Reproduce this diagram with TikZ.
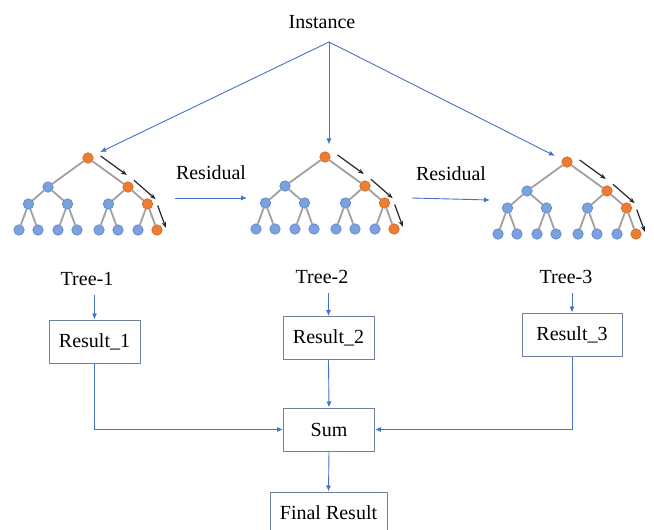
\documentclass[tikz,border=0pt]{standalone}
\usepackage{fontspec}
\setmainfont{Liberation Serif}
\newfontfamily\diagfont{Liberation Serif}
\usetikzlibrary{arrows.meta}

\definecolor{linkblue}{RGB}{68,114,196}
\definecolor{boxgray}{RGB}{112,128,160}
\definecolor{treeblue}{RGB}{122,162,222}
\definecolor{treeblueline}{RGB}{90,130,200}
\definecolor{treeorange}{RGB}{237,125,49}
\definecolor{treeorangeline}{RGB}{205,100,40}
\definecolor{edgegray}{RGB}{160,160,160}

\begin{document}
\begin{tikzpicture}[x=1pt,y=-1pt,>={Latex[length=6pt,width=5pt]},
  link/.style={->,draw=linkblue,line width=0.9pt},
  txt/.style={font=\diagfont\fontsize{20}{24}\selectfont},
  resbox/.style={txt,draw=boxgray,line width=1pt,minimum width=91pt,minimum height=43pt,inner sep=0pt},
  bnode/.style={circle,inner sep=0pt,minimum size=10.5pt,fill=treeblue,draw=treeblueline,line width=0.6pt},
  onode/.style={bnode,fill=treeorange,draw=treeorangeline},
  edge from parent/.style={draw=edgegray,line width=1.8pt},
  pathtip/.style={-{Stealth[length=6pt,width=4.5pt]},draw=black!85,line width=1.2pt},
  level 1/.style={sibling distance=80pt,level distance=29pt},
  level 2/.style={sibling distance=39pt,level distance=17pt},
  level 3/.style={sibling distance=19pt,level distance=26pt}]

  \useasboundingbox (0,0) rectangle (654,530);
  \clip (0,0) rectangle (654,530);

  % the three boosted trees
  \foreach \t/\x/\y in {t1/88/158,t2/325/157,t3/567/162}{
    \node[onode] (\t) at (\x,\y) {}
      child {node[bnode] {}
        child {node[bnode] {} child {node[bnode] {}} child {node[bnode] {}}}
        child {node[bnode] {} child {node[bnode] {}} child {node[bnode] {}}}}
      child {node[onode] {}
        child {node[bnode] {} child {node[bnode] {}} child {node[bnode] {}}}
        child {node[onode] {} child {node[bnode] {}} child {node[onode] {}}}};
    % arrows along the orange branch
    \draw[pathtip,shorten <=9pt,shorten >=8pt] ([shift={(5.3,-7.3)}]\t.center) -- ([shift={(5.3,-7.3)}]\t-2.center);
    \draw[pathtip,shorten >=-3pt] ([shift={(5.9,-6.8)}]\t-2.center) -- ([shift={(5.9,-6.8)}]\t-2-2.center);
    \draw[pathtip,shorten <=5pt,shorten >=-1pt] ([shift={(8.5,-3.1)}]\t-2-2.center) -- ([shift={(8.5,-3.1)}]\t-2-2-2.center);
  }

  \node[txt] (inst) at (322,22) {Instance};
  \coordinate (fork) at (329,42);
  \draw[link,shorten >=8pt] (fork) -- (t1);
  \draw[link,shorten >=7pt] (fork) -- (fork |- t2.north);
  \draw[link,shorten >=8pt] (fork) -- (t3);

  \coordinate (r1s) at (175,198);
  \coordinate (r1e) at (247,198);
  \coordinate (r2s) at (412,198);
  \coordinate (r2e) at (490,200);
  \draw[link] (r1s) -- node[txt,above=15pt] {Residual} (r1e);
  \draw[link] (r2s) -- node[txt,above=15pt] {Residual} (r2e);

  \node[txt] (lbl1) at (87,279) {Tree-1};
  \node[txt] (lbl2) at (322,277) {Tree-2};
  \node[txt] (lbl3) at (566,277) {Tree-3};

  \node[resbox] (res1) at (94.5,341.5) {Result\_1};
  \node[resbox] (res2) at (328.5,338) {Result\_2};
  \node[resbox,minimum width=100pt] (res3) at (572,334.5) {Result\_3};
  \node[resbox] (sum) at (329,429.5) {Sum};
  \node[resbox,minimum width=117pt,minimum height=42pt] (final) at (328.5,513) {Final Result};

  \draw[link,shorten <=6pt] (lbl1.south -| res1.north) -- (res1.north);
  \draw[link,shorten <=6pt] (lbl2.south -| res2.north) -- (res2.north);
  \draw[link,shorten <=6pt] (lbl3.south -| res3.north) -- (res3.north);
  \draw[link] (res1.south) |- (sum.west);
  \draw[link] (res2.south) -- (sum.north);
  \draw[link] (res3.south) |- (sum.east);
  \draw[link] (sum.south) -- (final.north);

\end{tikzpicture}
\end{document}
